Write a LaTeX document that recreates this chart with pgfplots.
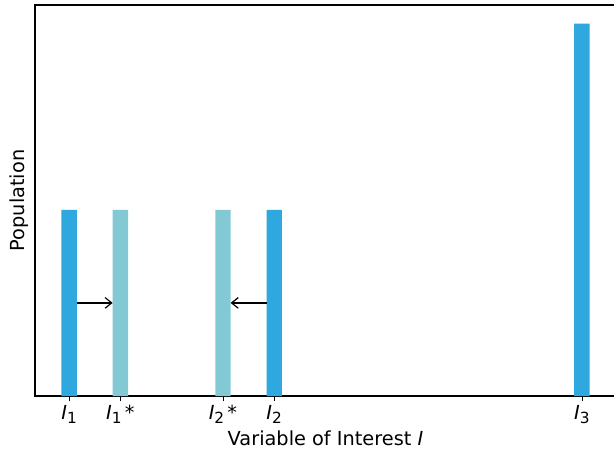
\documentclass[border=0pt]{standalone}
\usepackage{pgfplots}
\pgfplotsset{compat=1.18}
\usetikzlibrary{arrows.meta}
\usepackage{fontspec}
\setmainfont{DejaVu Sans}
\definecolor{darkbar}{HTML}{2EA8DF}
\definecolor{lightbar}{HTML}{83C9D4}
\newcommand{\Iv}[1]{\textit{I}\raisebox{-0.35ex}{\fontsize{11.5}{13}\selectfont #1}}
\begin{document}
\begin{tikzpicture}[x=0.75pt,y=0.75pt]
\begin{axis}[
  at={(0,0)}, anchor=origin,
  scale only axis,
  width=435.75pt, height=293.25pt,
  xmin=0.335, xmax=11.665,
  ymin=0, ymax=2.1,
  ytick=\empty,
  xtick={1,2,4,5,11},
  xticklabels={\Iv{1}, \Iv{1}\,*, \Iv{2}\,*, \Iv{2}, \Iv{3}},
  tick style={black, thin},
  xtick pos=bottom,
  tick align=outside,
  major tick length=3.5pt,
  axis line style={black, line width=0.8pt},
  ticklabel style={font=\fontsize{14.5}{16}\selectfont},
  xlabel={Variable of Interest \textit{I}},
  ylabel={Population},
  label style={font=\fontsize{14.5}{16}\selectfont},
  xlabel style={yshift=1pt},
  ylabel style={yshift=-2pt},
  clip=false,
]
\addplot[ybar, bar width=0.3, bar shift=0pt, fill=darkbar, draw=none] coordinates {(1,1) (5,1) (11,2)};
\addplot[ybar, bar width=0.3, bar shift=0pt, fill=lightbar, draw=none] coordinates {(2,1) (4,1)};
\draw[-{Straight Barb[length=5pt,width=8pt]}, black, line width=0.9pt] (axis cs:1.15,0.5) -- (axis cs:1.85,0.5);
\draw[-{Straight Barb[length=5pt,width=8pt]}, black, line width=0.9pt] (axis cs:4.85,0.5) -- (axis cs:4.15,0.5);
\end{axis}
\pgfresetboundingbox
\path[use as bounding box] (-35,-55) rectangle (579,396);
\end{tikzpicture}
\end{document}
